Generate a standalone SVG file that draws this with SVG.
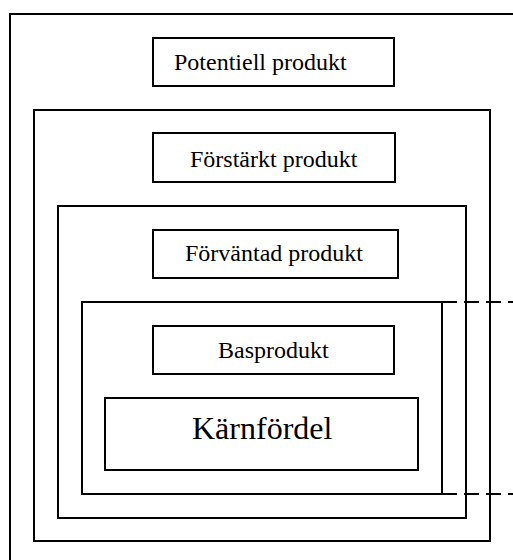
<svg xmlns="http://www.w3.org/2000/svg" width="513" height="560" viewBox="0 0 513 560">
<style>
.frame{fill:none;stroke:#000;stroke-width:2}
.box{fill:#fff;stroke:#000;stroke-width:2}
.lbl{font-family:"Liberation Serif","Times New Roman",serif;font-size:24px;fill:#000}
.big{font-size:32px}
.dash{stroke:#000;stroke-width:2;stroke-dasharray:15 7;fill:none}
</style>
<rect width="513" height="560" fill="#fff"/>
<g id="potentiell">
<rect class="frame" x="10" y="14" width="530" height="570"/>
<rect class="box" x="153" y="38" width="241" height="48"/>
<text class="lbl" x="174" y="70">Potentiell produkt</text>
</g>
<g id="forstarkt">
<rect class="frame" x="34" y="110" width="456" height="431"/>
<rect class="box" x="153" y="133" width="242" height="49"/>
<text class="lbl" x="190" y="167">Förstärkt produkt</text>
</g>
<g id="forvantad">
<rect class="frame" x="58" y="206" width="408" height="312"/>
<rect class="box" x="153" y="230" width="245" height="48"/>
<text class="lbl" x="185" y="261">Förväntad produkt</text>
</g>
<g id="basprodukt">
<rect class="frame" x="82" y="302" width="360" height="192"/>
<rect class="box" x="153" y="326" width="241" height="48"/>
<text class="lbl" x="218" y="358">Basprodukt</text>
</g>
<g id="karnfordel">
<rect class="box" x="105" y="398" width="313" height="72"/>
<text class="lbl big" x="192" y="439">Kärnfördel</text>
</g>
<g id="connectors">
<line class="dash" x1="442" y1="302" x2="513" y2="302"/>
<line class="dash" x1="442" y1="494" x2="513" y2="494"/>
</g>
</svg>
